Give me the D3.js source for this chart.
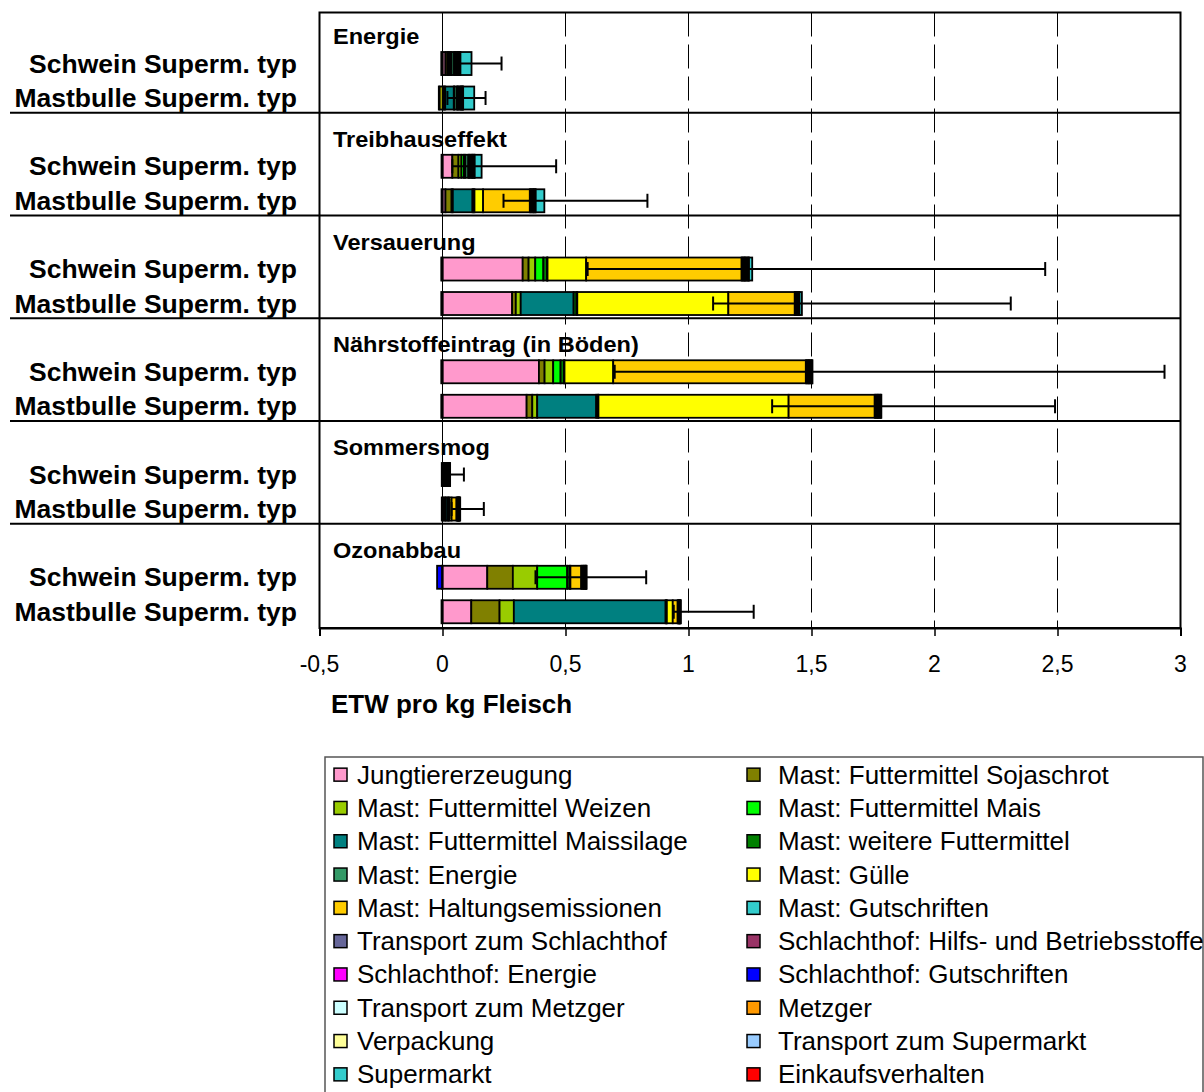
<!DOCTYPE html>
<html>
<head>
<meta charset="utf-8">
<script src="https://cdn.jsdelivr.net/npm/d3@7"></script>
<style>
  body { margin: 0; background: #fff; }
  svg { display: block; font-family: "Liberation Sans", Arial, sans-serif; }
</style>
</head>
<body>
<svg id="chart" width="1204" height="1092"></svg>
<script>
var impacts = ["Energie", "Treibhauseffekt", "Versauerung", "Nährstoffeintrag (in Böden)", "Sommersmog", "Ozonabbau"];
var products = ["Schwein Superm. typ", "Mastbulle Superm. typ"];

var seriesNames = [
  "Jungtiererzeugung", "Mast: Futtermittel Sojaschrot",
  "Mast: Futtermittel Weizen", "Mast: Futtermittel Mais",
  "Mast: Futtermittel Maissilage", "Mast: weitere Futtermittel",
  "Mast: Energie", "Mast: Gülle",
  "Mast: Haltungsemissionen", "Mast: Gutschriften",
  "Transport zum Schlachthof", "Schlachthof: Hilfs- und Betriebsstoffe",
  "Schlachthof: Energie", "Schlachthof: Gutschriften",
  "Transport zum Metzger", "Metzger",
  "Verpackung", "Transport zum Supermarkt",
  "Supermarkt", "Einkaufsverhalten"
];
var seriesColors = [
  "#FF99CC", "#808000", "#99CC00", "#00FF00", "#008080",
  "#008000", "#339966", "#FFFF00", "#FFCC00", "#33CCCC",
  "#666699", "#993366", "#FF00FF", "#0000FF", "#CCFFFF",
  "#FF9900", "#FFFF99", "#99CCFF", "#33CCCC", "#FF0000"
];

// one row per product (Schwein, Mastbulle), one value per series
var energie = [
  [0.012, 0.008, 0.006, 0.006, 0, 0.005, 0.01, 0, 0, -0.005, 0.004, 0.004, 0.006, 0, 0.002, 0.004, 0.004, 0.002, 0.045, 0],
  [0.006, 0.005, 0, 0, 0.035, 0.003, 0.01, -0.012, 0, -0.003, 0.003, 0.005, 0.006, 0, 0.002, 0.004, 0.003, 0.002, 0.045, 0]
];
var treibhaus = [
  [0.04, 0.025, 0.012, 0.01, 0, 0.006, 0.012, 0, 0, -0.004, 0.004, 0.004, 0.006, 0, 0.002, 0.004, 0.004, 0.002, 0.028, 0],
  [0.012, 0.025, 0.005, 0, 0.08, 0.004, 0.004, 0.035, 0.19, -0.004, 0.004, 0.004, 0.005, 0, 0.002, 0.003, 0.004, 0.002, 0.035, 0]
];
var versauerung = [
  [0.326, 0.024, 0.027, 0.033, 0, 0.015, 0.002, 0.157, 0.632, -0.005, 0.004, 0.005, 0.004, 0, 0.003, 0.006, 0.005, 0.003, 0.013, 0],
  [0.283, 0.015, 0.02, 0, 0.215, 0.012, 0.003, 0.614, 0.27, -0.005, 0.004, 0.003, 0.003, 0, 0.002, 0.003, 0.002, 0.002, 0.01, 0]
];
var naehrstoff = [
  [0.392, 0.023, 0.035, 0.03, 0, 0.014, 0.002, 0.198, 0.783, -0.005, 0.004, 0.004, 0.004, 0, 0.002, 0.005, 0.004, 0.002, 0.002, 0],
  [0.342, 0.023, 0.02, 0, 0.24, 0.007, 0.002, 0.773, 0.35, -0.005, 0.004, 0.004, 0.004, 0, 0.002, 0.005, 0.004, 0.002, 0.002, 0]
];
var sommersmog = [
  [0.004, 0.003, 0.002, 0.002, 0, 0.002, 0.003, 0, 0, -0.003, 0.003, 0.002, 0.002, 0, 0.001, 0.002, 0.002, 0.001, 0.002, 0],
  [0.006, 0.006, 0.002, 0, 0.008, 0.002, 0.005, 0.008, 0.02, -0.003, 0.003, 0.002, 0.002, 0, 0.001, 0.002, 0.002, 0.001, 0.002, 0]
];
var ozonabbau = [
  [0.182, 0.104, 0.099, 0.122, 0, 0.01, 0.003, 0, 0.044, -0.002, 0.004, 0.004, 0.003, -0.02, 0.002, 0.004, 0.002, 0.001, 0.002, 0],
  [0.117, 0.115, 0.058, 0, 0.617, 0.003, 0.002, 0.024, 0.02, -0.004, 0.002, 0.002, 0.002, 0, 0.001, 0.002, 0.001, 0.001, 0.002, 0]
];

// error bars, same order as the bars (impact by impact, Schwein then Mastbulle)
var errLow  = [0.07, 0.02, 0.04, 0.248, 0.59, 1.10, 0.70, 1.34, 0.02, 0.037, 0.378, 0.94];
var errHigh = [0.24, 0.175, 0.462, 0.833, 2.45, 2.31, 2.935, 2.49, 0.087, 0.168, 0.828, 1.265];

var xTicks = [-0.5, 0, 0.5, 1, 1.5, 2, 2.5, 3];
var xTitle = "ETW pro kg Fleisch";

var svg = d3.select("#chart");
var plotTop = 12.5, plotBottom = 628, plotLeft = 319.5, plotRight = 1180.5;

var x = d3.scaleLinear().domain([-0.5, 3]).range([plotLeft, plotRight]);
var groupY = d3.scaleBand().domain(impacts).range([10, 626.5]);
var barY = d3.scaleBand().domain(["title"].concat(products))
  .range([0, groupY.bandwidth()])
  .paddingInner(1 / 3).paddingOuter(0.156).align(0.7);

var de = d3.formatLocale({decimal: ",", thousands: ".", grouping: [3], currency: ["", " €"], minus: "-"});
var fmt = de.format("~g");

var valuesByImpact = [energie, treibhaus, versauerung, naehrstoff, sommersmog, ozonabbau];
var rows = [];
impacts.forEach(function(imp, i) {
  products.forEach(function(p, j) {
    var r = {impact: imp, product: p, idx: i * 2 + j};
    seriesNames.forEach(function(s, k) { r[s] = valuesByImpact[i][j][k]; });
    rows.push(r);
  });
});
var stacked = d3.stack().keys(seriesNames).offset(d3.stackOffsetDiverging)(rows);

function barTop(d) { return groupY(d.impact) + barY(d.product); }

// gridlines
svg.append("g").selectAll("line")
  .data(xTicks.filter(function(t) { return t > 0 && t < 3; }))
  .enter().append("line")
  .attr("x1", function(d) { return x(d); }).attr("x2", function(d) { return x(d); })
  .attr("y1", plotTop).attr("y2", plotBottom)
  .attr("stroke", "#000").attr("stroke-width", 1)
  .attr("stroke-dasharray", "24,8");

// zero line
svg.append("line")
  .attr("x1", x(0)).attr("x2", x(0)).attr("y1", plotTop).attr("y2", plotBottom)
  .attr("stroke", "#000").attr("stroke-width", 1);

// separators between impact groups
svg.append("g").selectAll("line")
  .data(impacts.slice(1))
  .enter().append("line")
  .attr("x1", 10).attr("x2", plotRight)
  .attr("y1", function(d) { return groupY(d); }).attr("y2", function(d) { return groupY(d); })
  .attr("stroke", "#000").attr("stroke-width", 2);

// stacked bars
svg.append("g").selectAll("g")
  .data(stacked)
  .enter().append("g")
  .attr("fill", function(d, i) { return seriesColors[i]; })
  .selectAll("rect")
  .data(function(d) { return d.filter(function(s) { return s[1] !== s[0]; }); })
  .enter().append("rect")
  .attr("x", function(d) { return x(Math.min(d[0], d[1])); })
  .attr("width", function(d) { return Math.abs(x(d[1]) - x(d[0])); })
  .attr("y", function(d) { return barTop(d.data); })
  .attr("height", barY.bandwidth())
  .attr("stroke", "#000").attr("stroke-width", 1.8);

// error bars
var eb = svg.append("g").selectAll("g")
  .data(rows)
  .enter().append("g")
  .attr("stroke", "#000").attr("stroke-width", 2);
eb.append("line")
  .attr("x1", function(d) { return x(errLow[d.idx]); })
  .attr("x2", function(d) { return x(errHigh[d.idx]); })
  .attr("y1", function(d) { return barTop(d) + barY.bandwidth() / 2; })
  .attr("y2", function(d) { return barTop(d) + barY.bandwidth() / 2; });
[errLow, errHigh].forEach(function(arr) {
  eb.append("line")
    .attr("x1", function(d) { return x(arr[d.idx]); })
    .attr("x2", function(d) { return x(arr[d.idx]); })
    .attr("y1", function(d) { return barTop(d) + barY.bandwidth() / 2 - 7; })
    .attr("y2", function(d) { return barTop(d) + barY.bandwidth() / 2 + 7; });
});

// frame
svg.append("rect")
  .attr("x", plotLeft).attr("y", plotTop)
  .attr("width", plotRight - plotLeft).attr("height", plotBottom - plotTop)
  .attr("fill", "none").attr("stroke", "#000").attr("stroke-width", 2);

// x axis
var xAxis = svg.append("g")
  .attr("transform", "translate(0," + plotBottom + ")")
  .call(d3.axisBottom(x).tickValues(xTicks).tickSize(8).tickPadding(0).tickFormat(function() { return ""; }));
xAxis.select(".domain").attr("stroke-width", 2);
xAxis.selectAll(".tick line").attr("stroke-width", 1.5);
svg.append("g").selectAll("text")
  .data(xTicks)
  .enter().append("text")
  .attr("x", function(d) { return x(d); })
  .attr("y", plotBottom + 44)
  .attr("text-anchor", "middle")
  .attr("font-size", 23)
  .text(function(d) { return fmt(d); });

svg.append("text")
  .attr("transform", "translate(331,713) scale(1.04,1)")
  .attr("font-size", 25).attr("font-weight", "bold")
  .text(xTitle);

// group titles
svg.append("g").selectAll("text")
  .data(impacts)
  .enter().append("text")
  .attr("transform", function(d) { return "translate(333," + (groupY(d) + 34) + ") scale(1.07,1)"; })
  .attr("font-size", 22).attr("font-weight", "bold")
  .text(function(d) { return d; });

// category labels
svg.append("g").selectAll("text")
  .data(rows)
  .enter().append("text")
  .attr("transform", function(d) { return "translate(297," + (barTop(d) + barY.bandwidth() / 2 + 9) + ") scale(1.06,1)"; })
  .attr("text-anchor", "end")
  .attr("font-size", 25).attr("font-weight", "bold")
  .text(function(d) { return d.product; });

// legend
var legTop = 757, legLeft = 325, legRight = 1203;
svg.append("defs").append("clipPath").attr("id", "legclip")
  .append("rect").attr("x", legLeft).attr("y", legTop).attr("width", legRight - legLeft).attr("height", 400);
svg.append("rect")
  .attr("x", legLeft).attr("y", legTop).attr("width", legRight - legLeft).attr("height", 400)
  .attr("fill", "#fff").attr("stroke", "#555").attr("stroke-width", 1.5);
var legRow = d3.scaleBand().domain(d3.range(10)).range([legTop + 1, legTop + 334]);
var legCol = [334, 747];
var legText = [357, 778];
var leg = svg.append("g").attr("clip-path", "url(#legclip)")
  .selectAll("g")
  .data(seriesNames)
  .enter().append("g")
  .attr("transform", function(d, i) {
    return "translate(0," + (legRow(Math.floor(i / 2)) + legRow.bandwidth() / 2) + ")";
  });
leg.append("rect")
  .attr("x", function(d, i) { return legCol[i % 2]; })
  .attr("y", -6.5).attr("width", 13).attr("height", 13)
  .attr("fill", function(d, i) { return seriesColors[i]; })
  .attr("stroke", "#000").attr("stroke-width", 1.5);
leg.append("text")
  .attr("transform", function(d, i) { return "translate(" + legText[i % 2] + ",9) scale(1.04,1)"; })
  .attr("font-size", 25)
  .text(function(d) { return d; });
</script>
</body>
</html>
